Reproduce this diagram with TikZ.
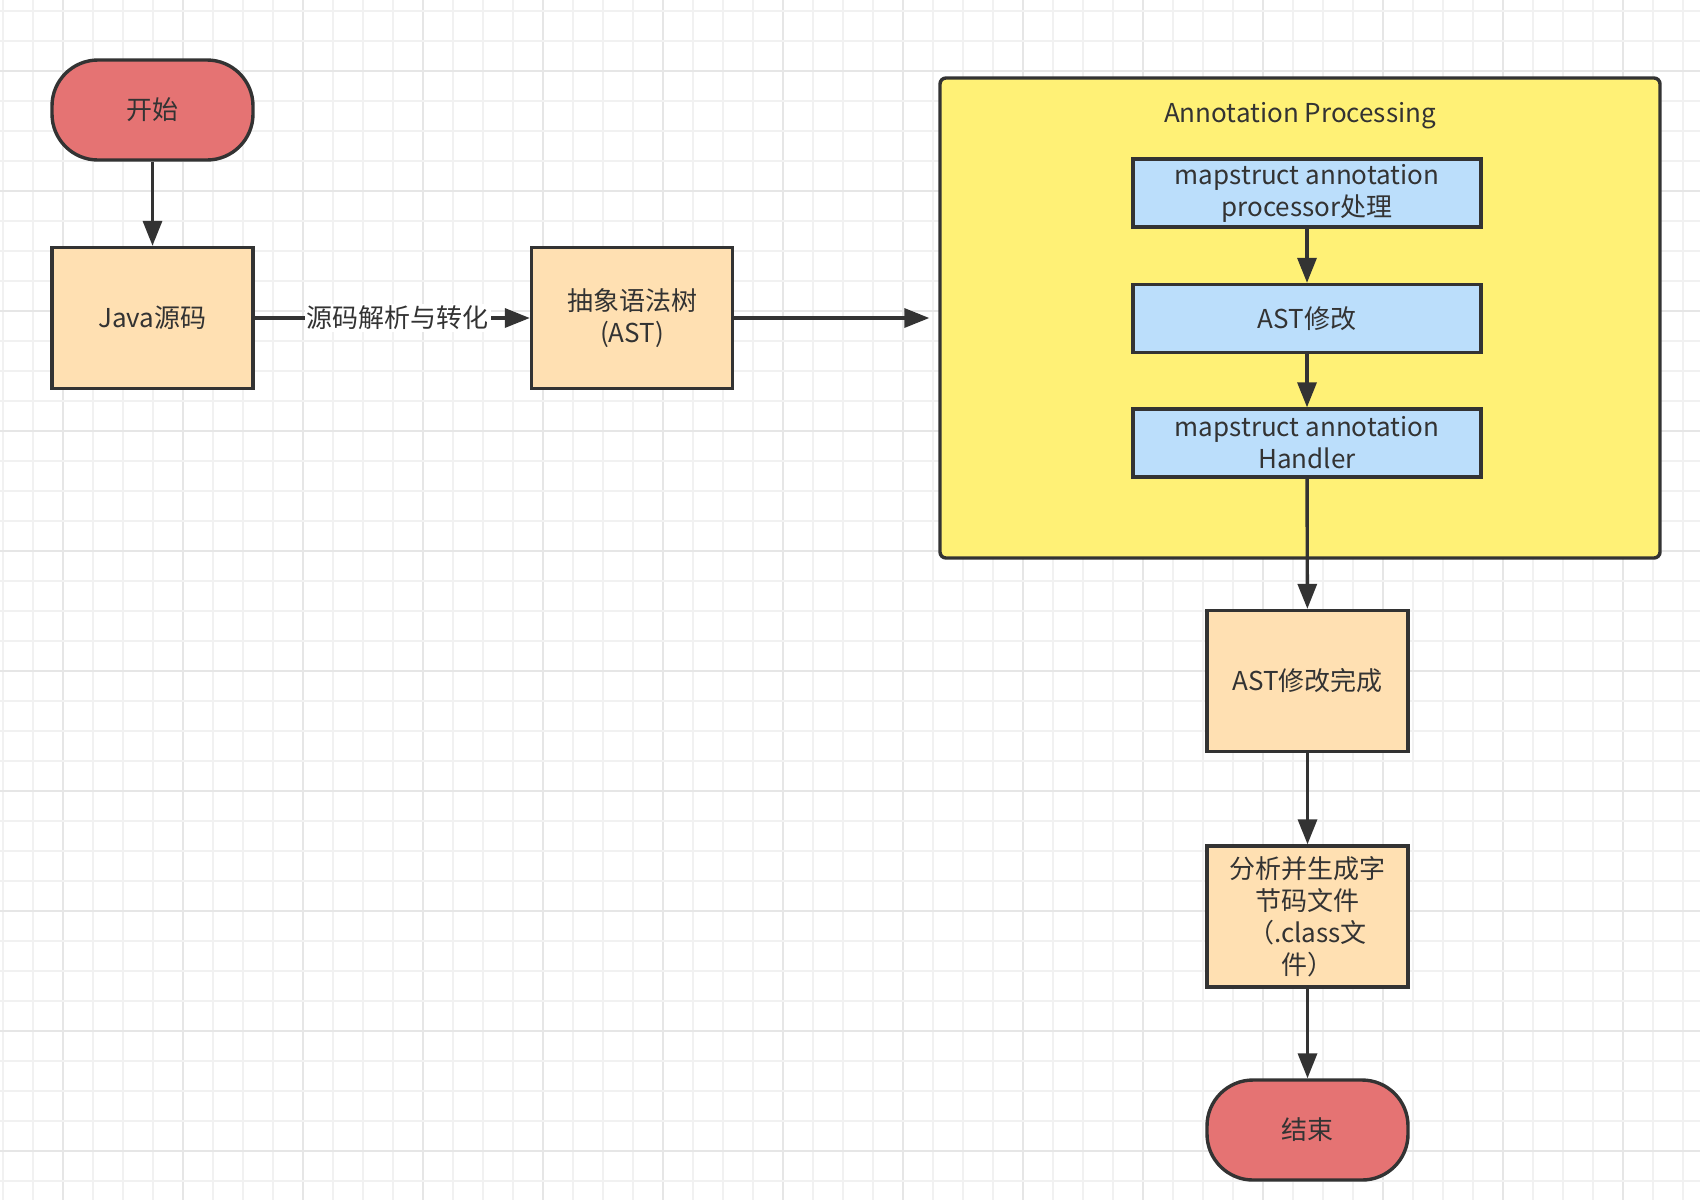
\documentclass[tikz,border=0pt]{standalone}
\usepackage{fontspec}
\setmainfont{Noto Sans CJK SC}
\usetikzlibrary{arrows.meta}
\definecolor{ln}{HTML}{333333}
\definecolor{redf}{HTML}{E57373}
\definecolor{orf}{HTML}{FFE0B2}
\definecolor{yelf}{HTML}{FFF176}
\definecolor{bluf}{HTML}{BBDEFB}
\definecolor{gmin}{HTML}{F1F1F1}
\definecolor{gmaj}{HTML}{E6E6E6}
\begin{document}
\begin{tikzpicture}[x=0.5pt,y=-0.5pt,
  every node/.style={text=ln,font=\fontsize{13}{16}\selectfont,align=center,inner sep=0pt},
  box/.style={draw=ln,line width=1.7pt,fill=orf,minimum width=100.5pt,minimum height=70.5pt},
  term/.style={draw=ln,line width=1.7pt,fill=redf,minimum width=100.5pt,minimum height=50pt,rounded corners=23pt},
  bbox/.style={draw=ln,line width=1.7pt,fill=bluf,minimum width=174pt,minimum height=34pt},
  cont/.style={draw=ln,line width=1.7pt,fill=yelf,minimum width=360pt,minimum height=240pt,rounded corners=3pt},
  arr/.style={draw=ln,line width=1.7pt,-{Triangle[length=12.5pt,width=9.5pt]}},
  lbl/.style={fill=white,inner sep=1pt}]
\useasboundingbox (0,0) rectangle (1700,1200);
\fill[white] (0,0) rectangle (1700,1200);
% grid
\foreach \k in {0,...,56}{
  \pgfmathtruncatemacro{\m}{mod(\k,4)}
  \ifnum\m=2
    \draw[gmaj,line width=0.9pt] (3+30*\k,0) -- (3+30*\k,1200);
  \else
    \draw[gmin,line width=0.6pt] (3+30*\k,0) -- (3+30*\k,1200);
  \fi
}
\foreach \k in {0,...,39}{
  \pgfmathtruncatemacro{\m}{mod(\k,4)}
  \ifnum\m=2
    \draw[gmaj,line width=0.9pt] (0,11+30*\k) -- (1700,11+30*\k);
  \else
    \draw[gmin,line width=0.6pt] (0,11+30*\k) -- (1700,11+30*\k);
  \fi
}
% nodes
\node[term] (start) at (152.5,110) {开始};
\node[box] (java) at (152.5,318) {Java源码};
\node[box] (ast) at (632,318) {抽象语法树\\(AST)};
\node[cont] (cont) at (1300,318) {};
\node (title) at (1300,116) {Annotation Processing};
\node[bbox] (b1) at (1307,193) {mapstruct annotation\\processor处理};
\node[bbox] (b2) at (1307,318.5) {AST修改};
\node[bbox] (b3) at (1307,443) {mapstruct annotation\\Handler};
\node[box] (done) at (1307.5,681) {AST修改完成};
\node[box] (gen) at (1307.5,916.5) {分析并生成字\\节码文件\\（.class文\\件）};
\node[term] (end) at (1307.5,1130) {结束};
% edges
\draw[arr] (start) -- (java);
\draw[arr] (java) -- node[lbl,pos=0.52] (lab) {源码解析与转化} (ast);
\draw[arr,shorten >=4.5pt] (ast.east) -- (cont.west);
\draw[arr] (b1) -- (b2);
\draw[arr] (b2) -- (b3);
\draw[arr] (b3) -- (done);
\draw[arr] (done) -- (gen);
\draw[arr] (gen) -- (end);
\end{tikzpicture}
\end{document}
